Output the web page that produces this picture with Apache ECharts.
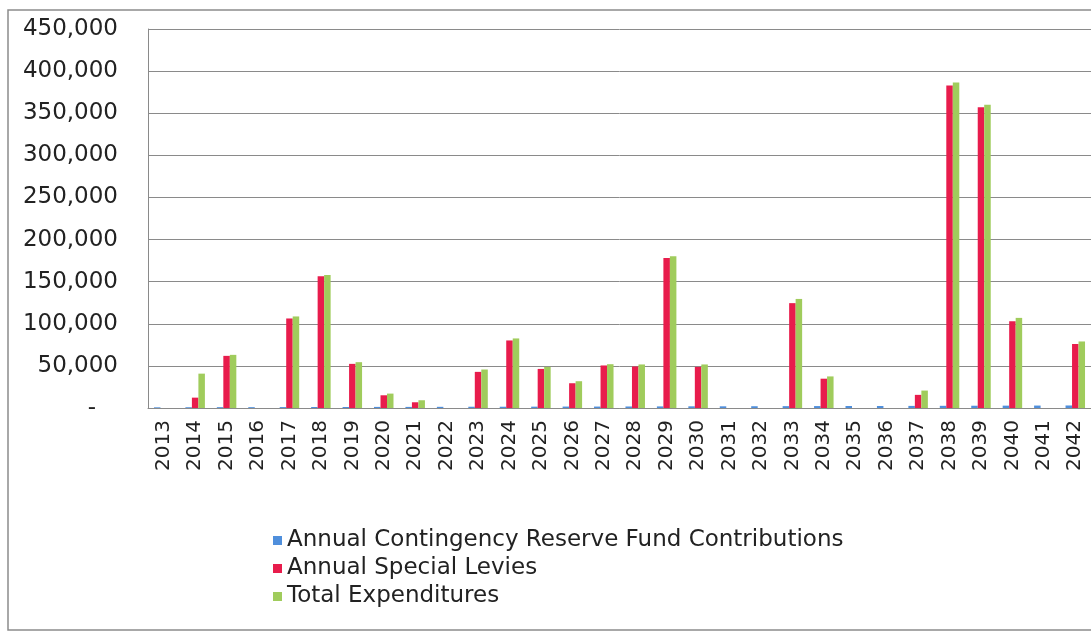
<!DOCTYPE html>
<html>
<head>
<meta charset="utf-8">
<script src="https://cdn.jsdelivr.net/npm/echarts@6/dist/echarts.min.js"></script>
<style>
  html, body { margin: 0; padding: 0; background: #fff; }
  #chart { width: 1091px; height: 632px; }
</style>
</head>
<body>
<div id="chart"></div>
<script>
// Years shown along the category axis
const years = ['2013','2014','2015','2016','2017','2018','2019','2020','2021','2022',
               '2023','2024','2025','2026','2027','2028','2029','2030','2031','2032',
               '2033','2034','2035','2036','2037','2038','2039','2040','2041','2042'];

// Annual contingency reserve fund contributions (small yearly amounts)
const contributions = [800, 900, 1000, 1000, 1100, 1200, 1200, 1300, 1300, 1400,
                       1500, 1500, 1600, 1700, 1700, 1800, 1900, 2000, 2000, 2100,
                       2200, 2300, 2400, 2400, 2500, 2600, 2700, 2800, 2900, 3000];

// Annual special levies
const specialLevies = [0, 12300, 61900, 0, 106300, 156300, 52400, 15100, 6800, 0,
                       42900, 80200, 46400, 29400, 50500, 49300, 178200, 48800, 0, 0,
                       124500, 34800, 0, 0, 15600, 383000, 357000, 103000, 0, 76000];

// Total expenditures
const expenditures = [0, 40800, 63100, 0, 108700, 158000, 54400, 17100, 9200, 0,
                      45700, 82600, 48800, 31800, 52000, 51700, 180200, 51700, 0, 0,
                      129500, 37500, 0, 0, 20700, 386500, 360000, 107000, 0, 79000];

// Value-axis range
const yMin = 0, yMax = 450000, yStep = 50000;

const chart = echarts.init(document.getElementById('chart'), null, { renderer: 'canvas' });

const FONT = '"DejaVu Sans", Verdana, sans-serif';
const BAR_W = 6.5;

chart.setOption({
  animation: false,
  backgroundColor: '#ffffff',
  graphic: [{
    type: 'rect',
    shape: { x: 8, y: 10, width: 1110, height: 620 },
    style: { fill: 'none', stroke: '#8c8c8c', lineWidth: 1.5 },
    z: -1
  }],
  grid: { left: 148, top: 29, width: 951, height: 379 },
  legend: {
    orient: 'vertical',
    left: 268,
    top: 524,
    itemWidth: 9,
    itemHeight: 9,
    itemGap: 5,
    icon: 'rect',
    textStyle: { fontFamily: FONT, fontSize: 23, lineHeight: 23, color: '#222', padding: [0, 0, 0, 0] },
    data: ['Annual Contingency Reserve Fund Contributions', 'Annual Special Levies', 'Total Expenditures']
  },
  xAxis: {
    type: 'category',
    data: years,
    boundaryGap: true,
    axisLine: { show: true, lineStyle: { color: '#8a8a8a', width: 1 } },
    axisTick: { show: false },
    axisLabel: {
      interval: 0,
      rotate: 90,
      margin: 12,
      fontFamily: FONT,
      fontSize: 20,
      color: '#222'
    }
  },
  yAxis: {
    type: 'value',
    min: yMin,
    max: yMax,
    interval: yStep,
    axisLine: { show: true, lineStyle: { color: '#8a8a8a', width: 1 } },
    axisTick: { show: false },
    splitLine: { show: true, lineStyle: { color: '#8a8a8a', width: 1 } },
    axisLabel: {
      margin: 30,
      fontFamily: FONT,
      fontSize: 23,
      color: '#222',
      formatter: v => v === 0 ? '-   ' : v.toLocaleString('en-US')
    }
  },
  series: [
    {
      name: 'Annual Contingency Reserve Fund Contributions',
      type: 'bar',
      data: contributions,
      barWidth: BAR_W,
      barGap: '0%',
      itemStyle: { color: '#4f8fdc' }
    },
    {
      name: 'Annual Special Levies',
      type: 'bar',
      data: specialLevies,
      barWidth: BAR_W,
      barGap: '0%',
      itemStyle: { color: '#e81c4c' }
    },
    {
      name: 'Total Expenditures',
      type: 'bar',
      data: expenditures,
      barWidth: BAR_W,
      barGap: '0%',
      itemStyle: { color: '#a0cc5c' }
    }
  ]
});
</script>
</body>
</html>
